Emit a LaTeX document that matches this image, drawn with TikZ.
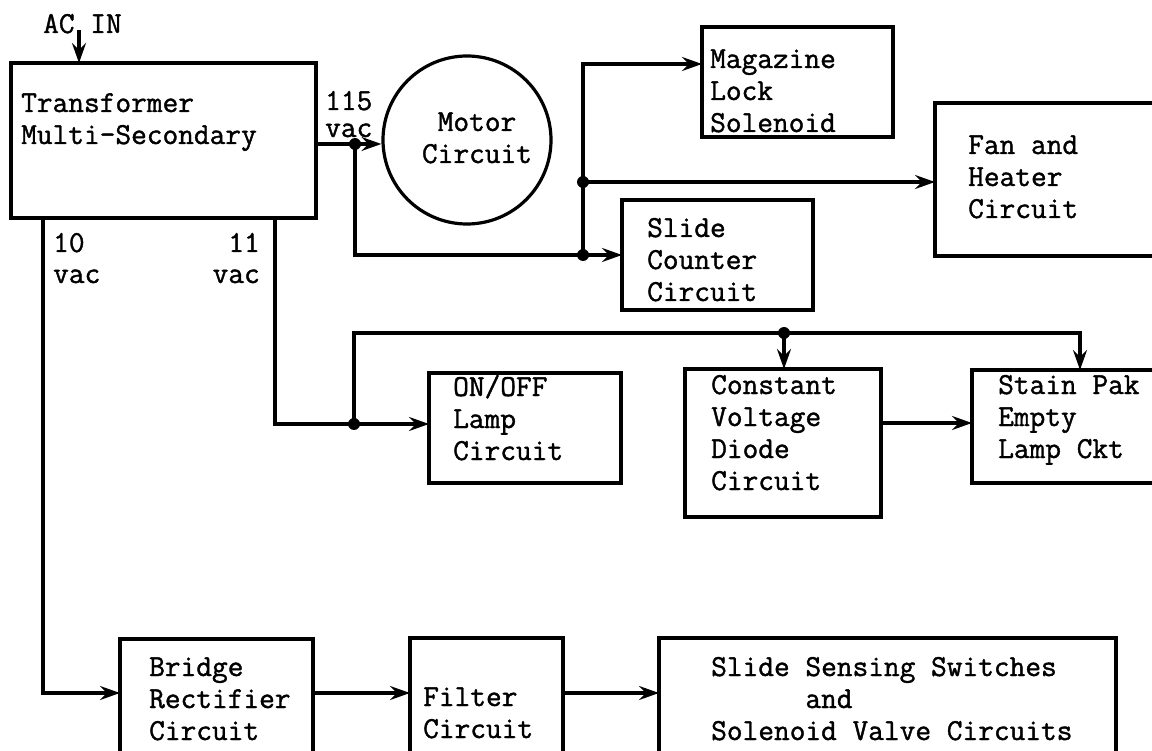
\documentclass[tikz,border=0pt]{standalone}
\usepackage{fontspec}
\newfontfamily\twfont[FakeBold=1.3]{Latin Modern Mono}
\usetikzlibrary{arrows.meta,calc}
\begin{document}
\begin{tikzpicture}[x=1pt,y=-1pt,
  wire/.style={line width=3.2pt},
  arr/.style={line width=3.2pt,-{Stealth[length=20pt,width=14pt,inset=7pt]}},
  blk/.style={draw,line width=3.2pt,rectangle,anchor=north west,inner sep=0pt,outer sep=0pt},
  lbl/.style={font=\fontsize{30.5}{32}\selectfont\twfont,align=left,anchor=base west,inner sep=0pt},
  jdot/.style={circle,fill,inner sep=0pt,minimum size=12pt}]
\useasboundingbox (0,0) rectangle (1152,751);
\clip (0,0) rectangle (1152,751);
% blocks
\node[blk,minimum width=305pt,minimum height=155pt] (tr) at (11,63) {};
\node[draw,circle,line width=3.2pt,minimum size=168pt,inner sep=0pt] (motor) at (467,140) {};
\node[blk,minimum width=191pt,minimum height=110pt] (mag) at (702,27) {};
\node[blk,minimum width=300pt,minimum height=153pt] (fan) at (935,103) {};
\node[blk,minimum width=191pt,minimum height=110pt] (sc) at (622,200) {};
\node[blk,minimum width=192pt,minimum height=110pt] (onoff) at (429,373) {};
\node[blk,minimum width=196pt,minimum height=148pt] (cv) at (685,369) {};
\node[blk,minimum width=216pt,minimum height=113pt] (sp) at (972,370) {};
\node[blk,minimum width=193pt,minimum height=150pt] (br) at (120,639) {};
\node[blk,minimum width=153pt,minimum height=150pt] (fi) at (410,638) {};
\node[blk,minimum width=457pt,minimum height=150pt] (ss) at (659,638) {};
% texts (anchor = baseline of last line)
\node[lbl] (ac) at (43,33) {AC IN};
\node[lbl] (trt) at (21,144) {Transformer\\Multi-Secondary};
\node[lbl,align=center,anchor=base] (motort) at (477,163) {Motor\\Circuit};
\node[lbl,font=\fontsize{30.5}{27}\selectfont\twfont] (v115) at (325,137) {115\\vac};
\node[lbl,font=\fontsize{30.5}{31}\selectfont\twfont] (v10) at (53,283) {10\\vac};
\node[lbl,font=\fontsize{30.5}{31}\selectfont\twfont,align=right,anchor=base east] (v11) at (260,283) {11\\vac};
\node[lbl] (magt) at (710,132) {Magazine\\Lock\\Solenoid};
\node[lbl] (fant) at (968,218) {Fan and\\Heater\\Circuit};
\node[lbl] (sct) at (647,301) {Slide\\Counter\\Circuit};
\node[lbl] (onofft) at (453,460) {ON/OFF\\Lamp\\Circuit};
\node[lbl] (cvt) at (711,490) {Constant\\Voltage\\Diode\\Circuit};
\node[lbl] (spt) at (998,458) {Stain Pak\\Empty\\Lamp Ckt};
\node[lbl] (brt) at (149,740) {Bridge\\Rectifier\\Circuit};
\node[lbl] (fit) at (423,738) {Filter\\Circuit};
\node[lbl] (sst) at (711,740) {Slide Sensing Switches\\\phantom{Slide~}and\\Solenoid Valve Circuits};
% junctions
\node[jdot] (j1) at (355,144) {};
\node[jdot] (j2) at (583,255) {};
\node[jdot] (j3) at (583,182) {};
\node[jdot] (j4) at (354,424) {};
\node[jdot] (j5) at (784,333) {};
\coordinate (acin) at (79,30);
\coordinate (row) at (0,693);
\coordinate (magin) at ([yshift=18pt]mag.west);
\coordinate (cvo) at ([yshift=20pt]cv.east);
% connectors
\draw[arr] (acin) -- (acin |- tr.north);
\draw[arr] (tr.east |- j1) -- (j1.center) -- (j1 -| motor.west);
\draw[arr] (j1.center) |- (sc.west);
\draw[arr] (j2.center) |- (magin);
\draw[arr] (j3.center) -- (j3 -| fan.west);
\draw[arr] ([xshift=32pt]tr.south west) |- (br.west |- row);
\draw[arr] (br.east |- row) -- (fi.west |- row);
\draw[arr] (fi.east |- row) -- (ss.west |- row);
\draw[arr] ([xshift=264pt]tr.south west) |- (onoff.west |- j4);
\draw[arr] (j4.center) |- (j5.center) -| (sp.north);
\draw[arr] (j5.center) -- (j5 |- cv.north);
\draw[arr] (cvo) -- (cvo -| sp.west);
\end{tikzpicture}
\end{document}
